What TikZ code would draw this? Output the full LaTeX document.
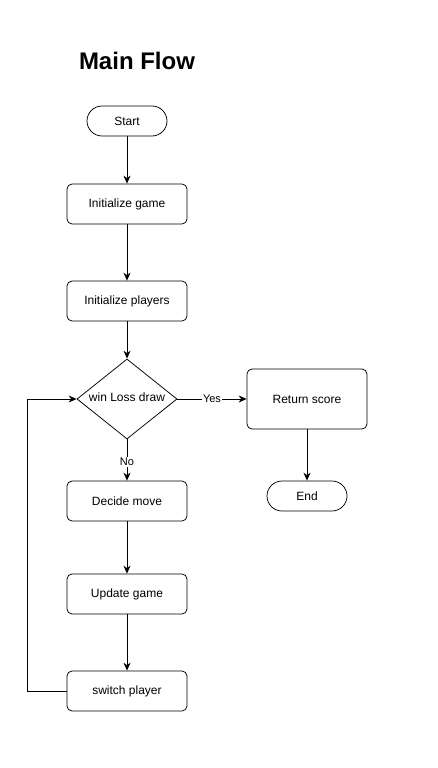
\documentclass[tikz,border=0pt]{standalone}
\usepackage{fontspec}
\setmainfont{Liberation Sans}
\usetikzlibrary{shapes.geometric,arrows.meta}
\tikzset{
  proc/.style={draw,rounded corners=5pt,minimum width=120pt,minimum height=40pt,inner sep=0pt,font=\fontsize{12}{14}\selectfont},
  term/.style={draw,rounded corners=15pt,minimum width=80pt,minimum height=30pt,inner sep=0pt,font=\fontsize{12}{14}\selectfont},
  dec/.style={draw,diamond,aspect=1.25,minimum width=100pt,minimum height=80pt,inner sep=0pt,font=\fontsize{12}{14}\selectfont},
  lab/.style={fill=white,inner sep=1pt,font=\fontsize{11}{13}\selectfont},
  arr/.style={-{Stealth[length=8pt,width=7pt]}}
}
\begin{document}
\begin{tikzpicture}[x=1pt,y=-1pt,line width=0.75pt]
\useasboundingbox (0,0) rectangle (437,768);
\node[font=\fontsize{24}{28}\selectfont\bfseries] (title) at (137,61) {Main Flow};
%
\node[term] (start) at (127,121) {Start};
\node[proc] (initgame) at (127,204) {Initialize game};
\node[proc] (initplayers) at (127,301) {Initialize players};
\node[dec,minimum width=100pt,minimum height=80pt] (check) at (127,399) {};
\node[font=\fontsize{12}{14}\selectfont] (checktxt) at (127,397) {win Loss draw};
\node[proc,minimum height=60pt] (score) at (307,399) {Return score};
\node[term] (end) at (307,496) {End};
\node[proc] (decide) at (127,501) {Decide move};
\node[proc] (update) at (127,594) {Update game};
\node[proc] (switch) at (127,691) {switch player};
%
\draw[arr] (start) -- (initgame);
\draw[arr] (initgame) -- (initplayers);
\draw[arr] (initplayers) -- (check.north);
\draw[arr] (check.east) -- node[lab,pos=0.5]{Yes} (score.west);
\draw[arr] (check.south) -- node[lab,pos=0.55]{No} (decide);
\draw[arr] (score) -- (end);
\draw[arr] (decide) -- (update);
\draw[arr] (update) -- (switch);
\coordinate (loop) at (27,691);
\draw[arr] (switch.west) -- (loop) |- (check.west);
\end{tikzpicture}
\end{document}
